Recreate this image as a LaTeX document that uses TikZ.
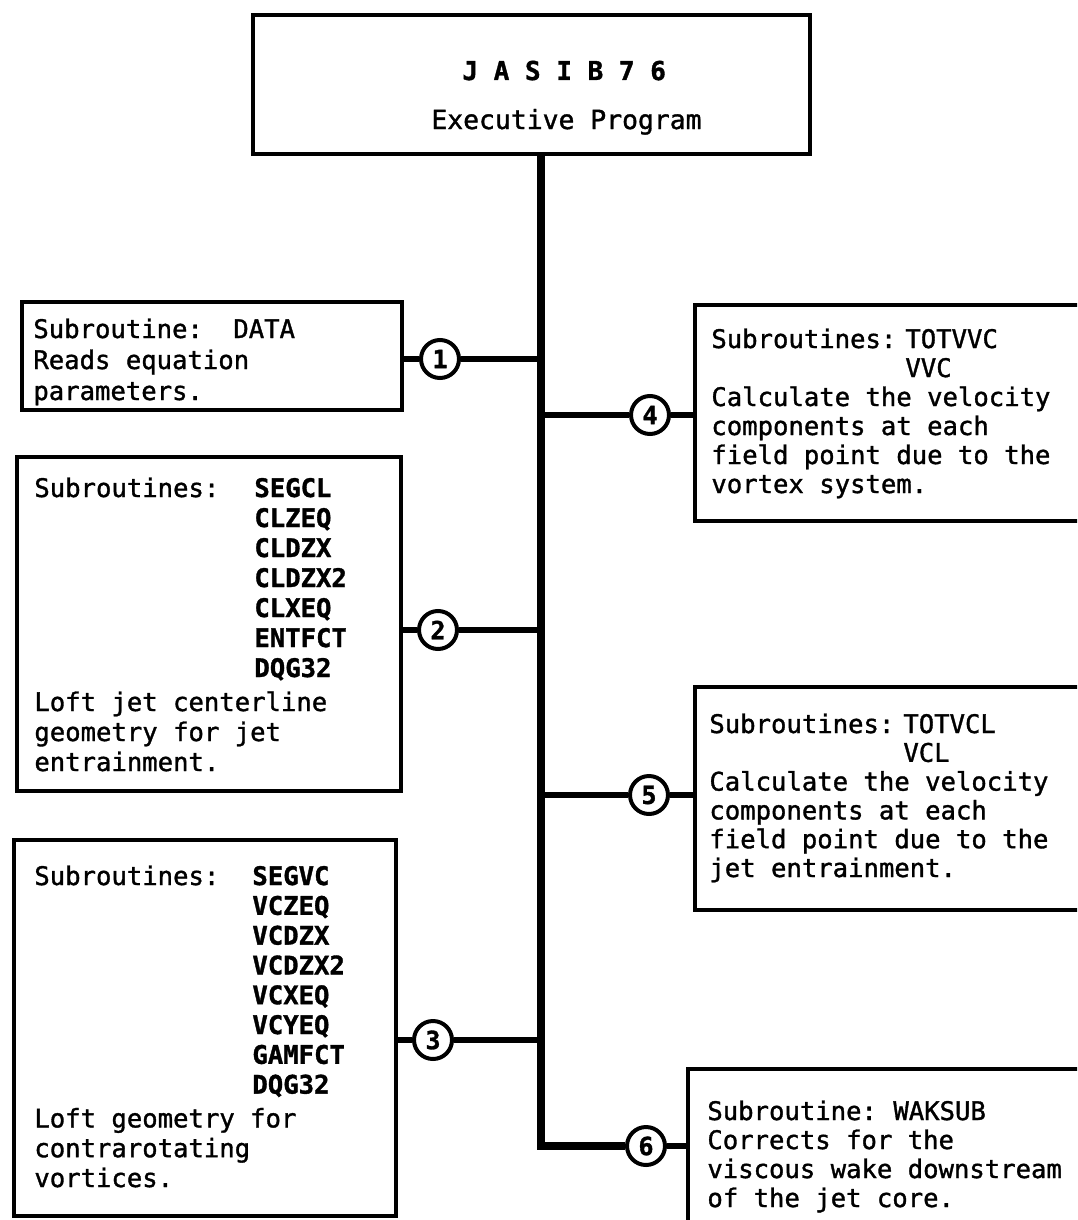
\documentclass[tikz,border=0pt]{standalone}
\usepackage{fontspec}
\newfontfamily\tw[FakeBold=1.3]{DejaVu Sans Mono}
\usetikzlibrary{fit}
\begin{document}
\begin{tikzpicture}[x=0.5pt,y=-0.5pt,
  box/.style={draw, line width=2pt, inner sep=0pt},
  trunk/.style={line width=3.8pt, line join=miter},
  branch/.style={line width=3.3pt},
  num/.style={circle, draw, fill=white, line width=2pt, minimum size=19pt, inner sep=0pt,
    font=\tw\bfseries\fontsize{12.5}{12}\selectfont},
  txt/.style={anchor=base west, inner sep=0pt, font=\tw\fontsize{12.8}{15}\selectfont}
]
\useasboundingbox (0,0) rectangle (1077,1220);
\fill[white] (0,0) rectangle (1077,1220);
\clip (0,0) rectangle (1077,1220);

% boxes
\node[box, fit={(253,15) (810,154)}] (top) {};
\node[box, fit={(22,302) (402,410)}] (b1) {};
\node[box, fit={(17,457) (401,791)}] (b2) {};
\node[box, fit={(14,840) (396,1216)}] (b3) {};
\node[box, fit={(695,305) (1095,521)}] (b4) {};
\node[box, fit={(695,687) (1095,910)}] (b5) {};
\node[box, fit={(688,1069) (1095,1240)}] (b6) {};

% header text
\node[txt, font=\tw\bfseries\fontsize{13}{15}\selectfont] (h1) at (462,80) {J A S I B 7 6};
\node[txt, font=\tw\fontsize{13.2}{15}\selectfont] (h2) at (431,129) {Executive Program};

% box texts
\node[txt, font=\tw\fontsize{12.8}{15.5}\selectfont] (t1) at (33,338) {\begin{tabular}[t]{@{}l@{}}
\makebox[100pt][l]{Subroutine:}DATA\\
Reads equation\\
parameters.
\end{tabular}};

\node[txt, font=\tw\fontsize{12.8}{15}\selectfont] (t2) at (34,497) {\begin{tabular}[t]{@{}l@{}}
\makebox[110pt][l]{Subroutines:}{\bfseries SEGCL}\\
\hspace*{110pt}{\bfseries CLZEQ}\\
\hspace*{110pt}{\bfseries CLDZX}\\
\hspace*{110pt}{\bfseries CLDZX2}\\
\hspace*{110pt}{\bfseries CLXEQ}\\
\hspace*{110pt}{\bfseries ENTFCT}\\
\hspace*{110pt}{\bfseries DQG32}\\[2pt]
Loft jet centerline\\
geometry for jet\\
entrainment.
\end{tabular}};

\node[txt, font=\tw\fontsize{12.8}{14.9}\selectfont] (t3) at (34,885) {\begin{tabular}[t]{@{}l@{}}
\makebox[109pt][l]{Subroutines:}{\bfseries SEGVC}\\
\hspace*{109pt}{\bfseries VCZEQ}\\
\hspace*{109pt}{\bfseries VCDZX}\\
\hspace*{109pt}{\bfseries VCDZX2}\\
\hspace*{109pt}{\bfseries VCXEQ}\\
\hspace*{109pt}{\bfseries VCYEQ}\\
\hspace*{109pt}{\bfseries GAMFCT}\\
\hspace*{109pt}{\bfseries DQG32}\\[2pt]
Loft geometry for\\
contrarotating\\
vortices.
\end{tabular}};

\node[txt, font=\tw\fontsize{12.8}{14.5}\selectfont] (t4) at (711,348) {\begin{tabular}[t]{@{}l@{}}
\makebox[97pt][l]{Subroutines:}TOTVVC\\
\hspace*{97pt}VVC\\
Calculate the velocity\\
components at each\\
field point due to the\\
vortex system.
\end{tabular}};

\node[txt, font=\tw\fontsize{12.8}{14.4}\selectfont] (t5) at (709,733) {\begin{tabular}[t]{@{}l@{}}
\makebox[97pt][l]{Subroutines:}TOTVCL\\
\hspace*{97pt}VCL\\
Calculate the velocity\\
components at each\\
field point due to the\\
jet entrainment.
\end{tabular}};

\node[txt, font=\tw\fontsize{12.8}{14.5}\selectfont] (t6) at (707,1120) {\begin{tabular}[t]{@{}l@{}}
\makebox[93pt][l]{Subroutine:}WAKSUB\\
Corrects for the\\
viscous wake downstream\\
of the jet core.
\end{tabular}};

% circles
\node[num] (c1) at (440,359) {1};
\node[num] (c2) at (438,630) {2};
\node[num] (c3) at (433,1040) {3};
\node[num] (c4) at (650,415) {4};
\node[num] (c5) at (649,795) {5};
\node[num] (c6) at (646,1146) {6};

\coordinate (elbow) at (541,1146);

% trunk
\draw[trunk] (top.south -| elbow) -- (elbow) -- (c6);

% branches
\draw[branch] (b1.east |- c1) -- (c1);
\draw[branch] (c1) -- (c1 -| elbow);
\draw[branch] (b2.east |- c2) -- (c2);
\draw[branch] (c2) -- (c2 -| elbow);
\draw[branch] (b3.east |- c3) -- (c3);
\draw[branch] (c3) -- (c3 -| elbow);
\draw[branch] (c4 -| elbow) -- (c4);
\draw[branch] (c4) -- (c4 -| b4.west);
\draw[branch] (c5 -| elbow) -- (c5);
\draw[branch] (c5) -- (c5 -| b5.west);
\draw[branch] (c6) -- (c6 -| b6.west);
\end{tikzpicture}
\end{document}
